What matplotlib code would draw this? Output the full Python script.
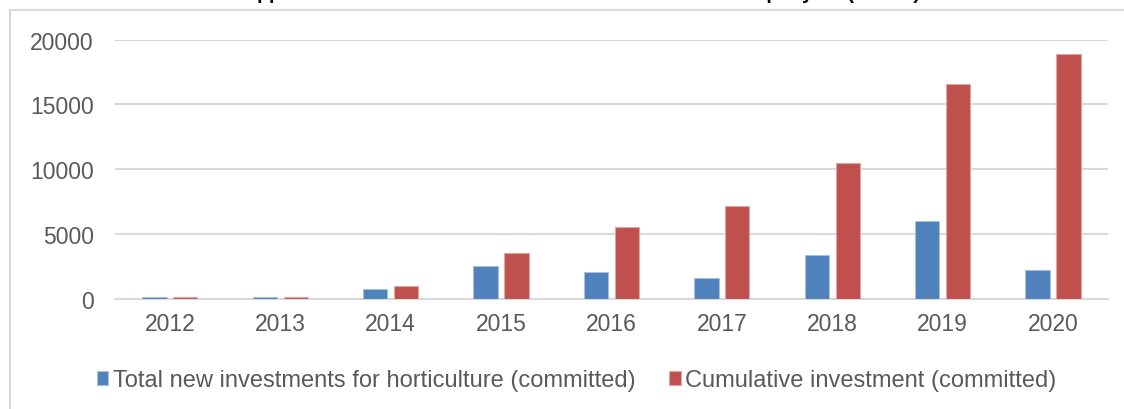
import matplotlib.pyplot as plt
import matplotlib.patches as patches
import numpy as np

plt.rcParams['font.family'] = ['Liberation Sans', 'DejaVu Sans']

years = ['2012', '2013', '2014', '2015', '2016', '2017', '2018', '2019', '2020']
new_investments = [160, 140, 800, 2570, 2100, 1600, 3390, 6010, 2260]
cumulative = [160, 190, 980, 3570, 5530, 7170, 10460, 16580, 18890]
series_labels = ['Total new investments for horticulture (committed)',
                 'Cumulative investment (committed)']
title = 'Support to horticulture: new and cumulative investments per year (x 1000)'

blue = '#4F81BD'
red = '#C0504D'
grid = '#D9D9D9'
text_col = '#595959'

fig = plt.figure(figsize=(11.24, 4.10), dpi=100)
ax = fig.add_axes([0.102, 0.268, 0.884, 0.633])

x = np.arange(len(years))
w = 0.22
ax.bar(x - 0.14, new_investments, w, color=blue, edgecolor='#A7C0DE',
       linewidth=0.8, label=series_labels[0], zorder=3)
ax.bar(x + 0.14, cumulative, w, color=red, edgecolor='#DFA8A6',
       linewidth=0.8, label=series_labels[1], zorder=3)

ax.set_xlim(-0.5, len(years) - 0.5)
ax.set_ylim(0, 20000)
ax.set_yticks([0, 5000, 10000, 15000, 20000])
ax.set_xticks(x)
ax.set_xticklabels(years)
ax.yaxis.grid(True, color=grid, linewidth=1.5, zorder=0)
ax.set_axisbelow(True)
for s in ['top', 'right', 'left']:
    ax.spines[s].set_visible(False)
ax.spines['bottom'].set_color(grid)
ax.spines['bottom'].set_linewidth(1.5)
ax.tick_params(axis='both', length=0, labelsize=16.5, colors=text_col)
ax.tick_params(axis='y', pad=15)
ax.tick_params(axis='x', pad=9)

leg = fig.legend(loc='center', bbox_to_anchor=(0.513, 0.07), ncol=2,
                 frameon=False, fontsize=17, handlelength=0.5,
                 handleheight=0.5, handletextpad=0.2, columnspacing=1.4)
for t in leg.get_texts():
    t.set_color(text_col)

# chart frame (cut at right and bottom like the source)
fig.patches.append(patches.Rectangle((0.0089, -0.1), 1.2, 1.073,
                                     transform=fig.transFigure, fill=False,
                                     edgecolor=grid, linewidth=1.5))

# title is mostly cut off at the top of the image
fig.text(0.512, 1.003, title, ha='center', va='baseline', fontsize=14,
         fontweight='bold', color='black')

plt.savefig('out.png', dpi=100)
